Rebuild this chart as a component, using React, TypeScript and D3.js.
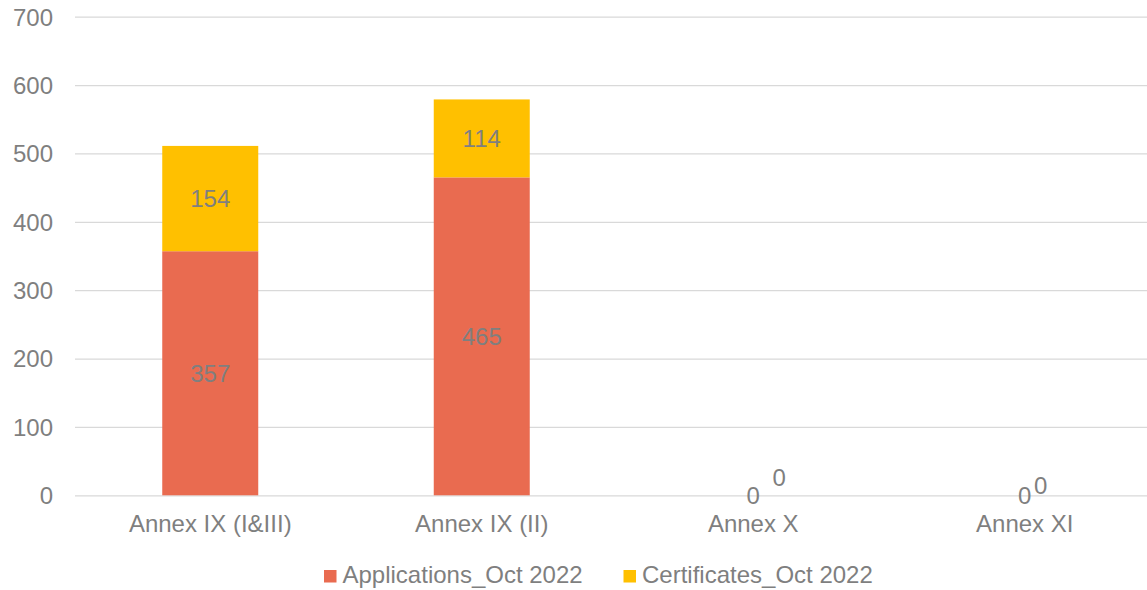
import { useEffect, useRef } from "react";
import * as d3 from "d3";

const categories = ["Annex IX (I&III)", "Annex IX (II)", "Annex X", "Annex XI"];
const seriesNames = ["Applications_Oct 2022", "Certificates_Oct 2022"];
const applications = [357, 465, 0, 0];
const certificates = [154, 114, 0, 0];
const yTicks = [0, 100, 200, 300, 400, 500, 600, 700];

const colors = ["#E96B50", "#FFC000"];
const textColor = "#7F7F7F";
const font = "'Liberation Sans', Arial, sans-serif";
const fontSize = 24;

// where Excel pushed the zero labels of the empty categories
const zeroNudge: Record<string, { dx: number; dy: number }[]> = {
  "Annex X": [{ dx: 0, dy: 0 }, { dx: 26, dy: -17.5 }],
  "Annex XI": [{ dx: 0, dy: 0 }, { dx: 16, dy: -10 }],
};

export default function App() {
  const ref = useRef<SVGSVGElement>(null);

  useEffect(() => {
    document.body.style.margin = "0";
    const width = 1147;
    const height = 590;
    const svg = d3.select(ref.current);
    svg.selectAll("*").remove();

    const pad = 1 - 96 / 271.5;
    const x = d3
      .scaleBand()
      .domain(categories)
      .range([74.5, 1160.5])
      .paddingInner(pad)
      .paddingOuter(pad / 2);

    const y = d3.scaleLinear().domain([0, 700]).range([495.3, 16.7]);

    svg.append("rect").attr("width", width).attr("height", height).attr("fill", "white");

    // gridlines + y labels
    svg
      .append("g")
      .attr("transform", "translate(75,0)")
      .call(d3.axisRight(y).tickValues(yTicks).tickSize(1100).tickFormat(d3.format("d")))
      .call((g) => g.select(".domain").remove())
      .call((g) => g.selectAll(".tick line").attr("stroke", "#D9D9D9").attr("stroke-width", 1.3))
      .call((g) =>
        g
          .selectAll(".tick text")
          .attr("x", -22)
          .attr("dy", "0.35em")
          .attr("text-anchor", "end")
          .attr("fill", textColor)
          .attr("font-family", font)
          .attr("font-size", fontSize)
      );

    const table = categories.map((c, i) => ({ cat: c, a: applications[i], b: certificates[i] }));
    const stacked = d3.stack<any>().keys(["a", "b"])(table);

    const layers = svg
      .append("g")
      .selectAll("g")
      .data(stacked)
      .join("g")
      .attr("fill", (_, i) => colors[i]);

    layers
      .selectAll("rect")
      .data((d) => d)
      .join("rect")
      .attr("x", (d: any) => x(d.data.cat)!)
      .attr("y", (d) => y(d[1]))
      .attr("width", x.bandwidth())
      .attr("height", (d) => y(d[0]) - y(d[1]));

    // data labels
    stacked.forEach((layer, si) => {
      svg
        .append("g")
        .selectAll("text")
        .data(layer)
        .join("text")
        .attr("x", (d: any) => {
          const n = zeroNudge[d.data.cat];
          return x(d.data.cat)! + x.bandwidth() / 2 + (n ? n[si].dx : 0);
        })
        .attr("y", (d: any) => {
          const n = zeroNudge[d.data.cat];
          return y((d[0] + d[1]) / 2) + (n ? n[si].dy : 0);
        })
        .attr("dy", "0.35em")
        .attr("text-anchor", "middle")
        .attr("fill", textColor)
        .attr("font-family", font)
        .attr("font-size", fontSize)
        .text((d) => d[1] - d[0]);
    });

    // x labels
    svg
      .append("g")
      .attr("transform", "translate(0,495)")
      .call(d3.axisBottom(x).tickSize(0).tickPadding(20))
      .call((g) => g.select(".domain").remove())
      .call((g) =>
        g
          .selectAll(".tick text")
          .attr("fill", textColor)
          .attr("font-family", font)
          .attr("font-size", fontSize)
      );

    // legend
    const legendX = [324, 623.5];
    const lg = svg.append("g");
    seriesNames.forEach((name, i) => {
      lg.append("rect")
        .attr("x", legendX[i])
        .attr("y", 570)
        .attr("width", 12.5)
        .attr("height", 12.5)
        .attr("fill", colors[i]);
      lg.append("text")
        .attr("x", legendX[i] + 18.5)
        .attr("y", 574.5)
        .attr("dy", "0.35em")
        .attr("fill", textColor)
        .attr("font-family", font)
        .attr("font-size", fontSize)
        .text(name);
    });
  }, []);

  return (
    <svg
      ref={ref}
      width={1147}
      height={590}
      style={{ position: "absolute", left: 0, top: 0, display: "block" }}
    />
  );
}
